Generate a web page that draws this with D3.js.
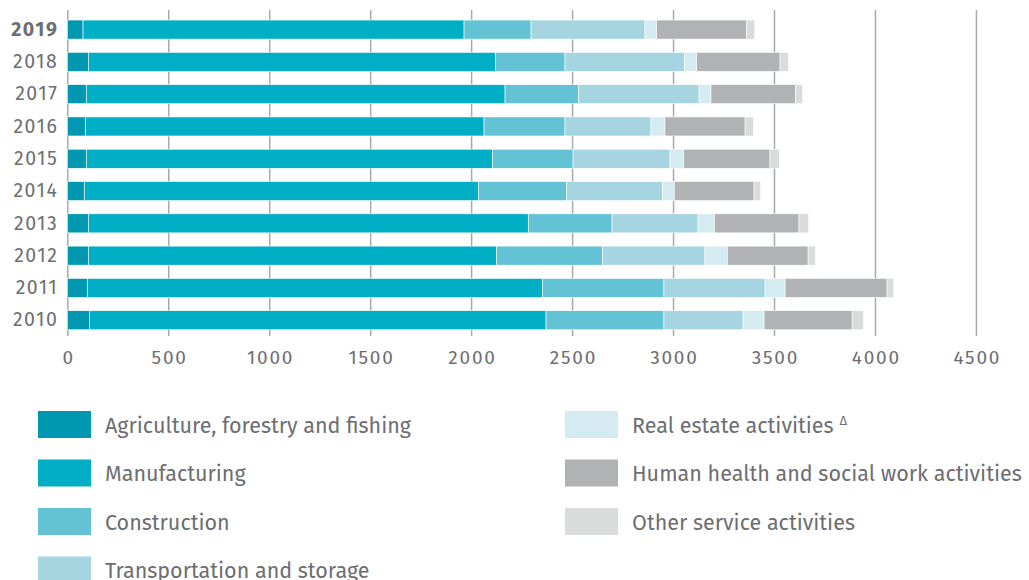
<!DOCTYPE html>
<html>
<head>
<meta charset="utf-8">
<script src="https://cdn.jsdelivr.net/npm/d3@7"></script>
<style>
  body { margin: 0; background: #fff; }
  text { font-family: "Fira Sans", "Noto Sans", sans-serif; fill: #6d6e71; }
</style>
</head>
<body>
<svg id="chart"></svg>
<script>
// years, top to bottom
const years = ["2019", "2018", "2017", "2016", "2015", "2014", "2013", "2012", "2011", "2010"];

const sectors = [
  "Agriculture, forestry and fishing",
  "Manufacturing",
  "Construction",
  "Transportation and storage",
  "Real estate activities",
  "Human health and social work activities",
  "Other service activities"
];
const colors = ["#0098b1", "#00aec5", "#63c3d4", "#a5d5e0", "#d4ebf1", "#b1b2b4", "#dadbdb"];

// values per sector, same order as years
const agriculture   = [78, 104, 94, 89, 94, 84, 104, 104, 99, 109];
const manufacturing = [1887, 2016, 2074, 1975, 2011, 1952, 2179, 2021, 2254, 2262];
const construction  = [332, 345, 363, 401, 400, 437, 415, 525, 602, 584];
const transport     = [564, 591, 598, 426, 480, 474, 426, 508, 501, 392];
const realEstate    = [58, 61, 59, 69, 68, 59, 81, 111, 99, 104];
const health        = [446, 413, 418, 397, 427, 395, 419, 400, 505, 436];
const otherService  = [40, 41, 36, 41, 46, 33, 48, 36, 33, 56];

const xTicks = [0, 500, 1000, 1500, 2000, 2500, 3000, 3500, 4000, 4500];

const series = [agriculture, manufacturing, construction, transport, realEstate, health, otherService];
const table = years.map((y, i) => {
  const row = {year: y};
  sectors.forEach((s, j) => row[s] = series[j][i]);
  return row;
});

const config = {
  width: 1029, height: 580,
  margin: {top: 10, left: 67.3},
  gridBottom: 336
};

const svg = d3.select("#chart")
  .attr("width", config.width)
  .attr("height", config.height);

const chart = svg.append("g")
  .attr("transform", `translate(${config.margin.left},0)`);

const x = d3.scaleLinear()
  .domain([0, 4500])
  .range([0, 908.6]);

const y = d3.scaleBand()
  .domain(years)
  .range([6.8, 343])
  .padding(0.41);

// gridlines + tick labels
const xAxis = chart.append("g")
  .attr("transform", `translate(0,${config.gridBottom})`)
  .call(d3.axisBottom(x).tickValues(xTicks).tickFormat(d3.format("d"))
    .tickSize(-(config.gridBottom - config.margin.top)).tickPadding(15));
xAxis.select(".domain").remove();
xAxis.selectAll(".tick line").attr("stroke", "#a7a9ac").attr("stroke-width", 1.5);
xAxis.selectAll(".tick text")
  .style("font-size", "19px")
  .style("letter-spacing", "1.8px")
  .attr("dx", "0.9px")
  .attr("fill", "#6d6e71");

// stacked bars
const stack = d3.stack().keys(sectors)(table);
chart.selectAll(".layer")
  .data(stack)
  .join("g")
    .attr("class", "layer")
    .attr("fill", (d, i) => colors[i])
  .selectAll("rect")
  .data(d => d)
  .join("rect")
    .attr("x", d => x(d[0]))
    .attr("y", d => y(d.data.year))
    .attr("width", d => x(d[1]) - x(d[0]))
    .attr("height", y.bandwidth())
    .attr("stroke", "#fff")
    .attr("stroke-width", 0.6);

// year labels
const yAxis = chart.append("g")
  .call(d3.axisLeft(y).tickSize(0).tickPadding(9));
yAxis.select(".domain").remove();
yAxis.selectAll(".tick text")
  .style("font-size", "19.5px")
  .style("letter-spacing", "1.5px")
  .attr("fill", d => d === "2019" ? "#58595b" : "#6d6e71")
  .style("font-weight", d => d === "2019" ? "bold" : "normal");

// legend
const legendRows = [0, 1, 2, 3, 0, 1, 2];
const legendCols = [0, 0, 0, 0, 1, 1, 1];
const legend = svg.append("g");
const item = legend.selectAll("g")
  .data(sectors)
  .join("g")
    .attr("transform", (d, i) => `translate(${legendCols[i] ? 565 : 38},${411 + legendRows[i] * 48.5})`);

item.append("rect")
  .attr("width", 53)
  .attr("height", 27)
  .attr("fill", (d, i) => colors[i]);

const label = item.append("text")
  .attr("x", 67)
  .attr("y", 14)
  .attr("dy", "0.35em")
  .style("font-size", "21.5px")
  .text(d => d);

label.filter(d => d === "Real estate activities")
  .append("tspan")
  .attr("dx", 6)
  .attr("dy", "-0.55em")
  .style("font-size", "13px")
  .text("Δ");
</script>
</body>
</html>
